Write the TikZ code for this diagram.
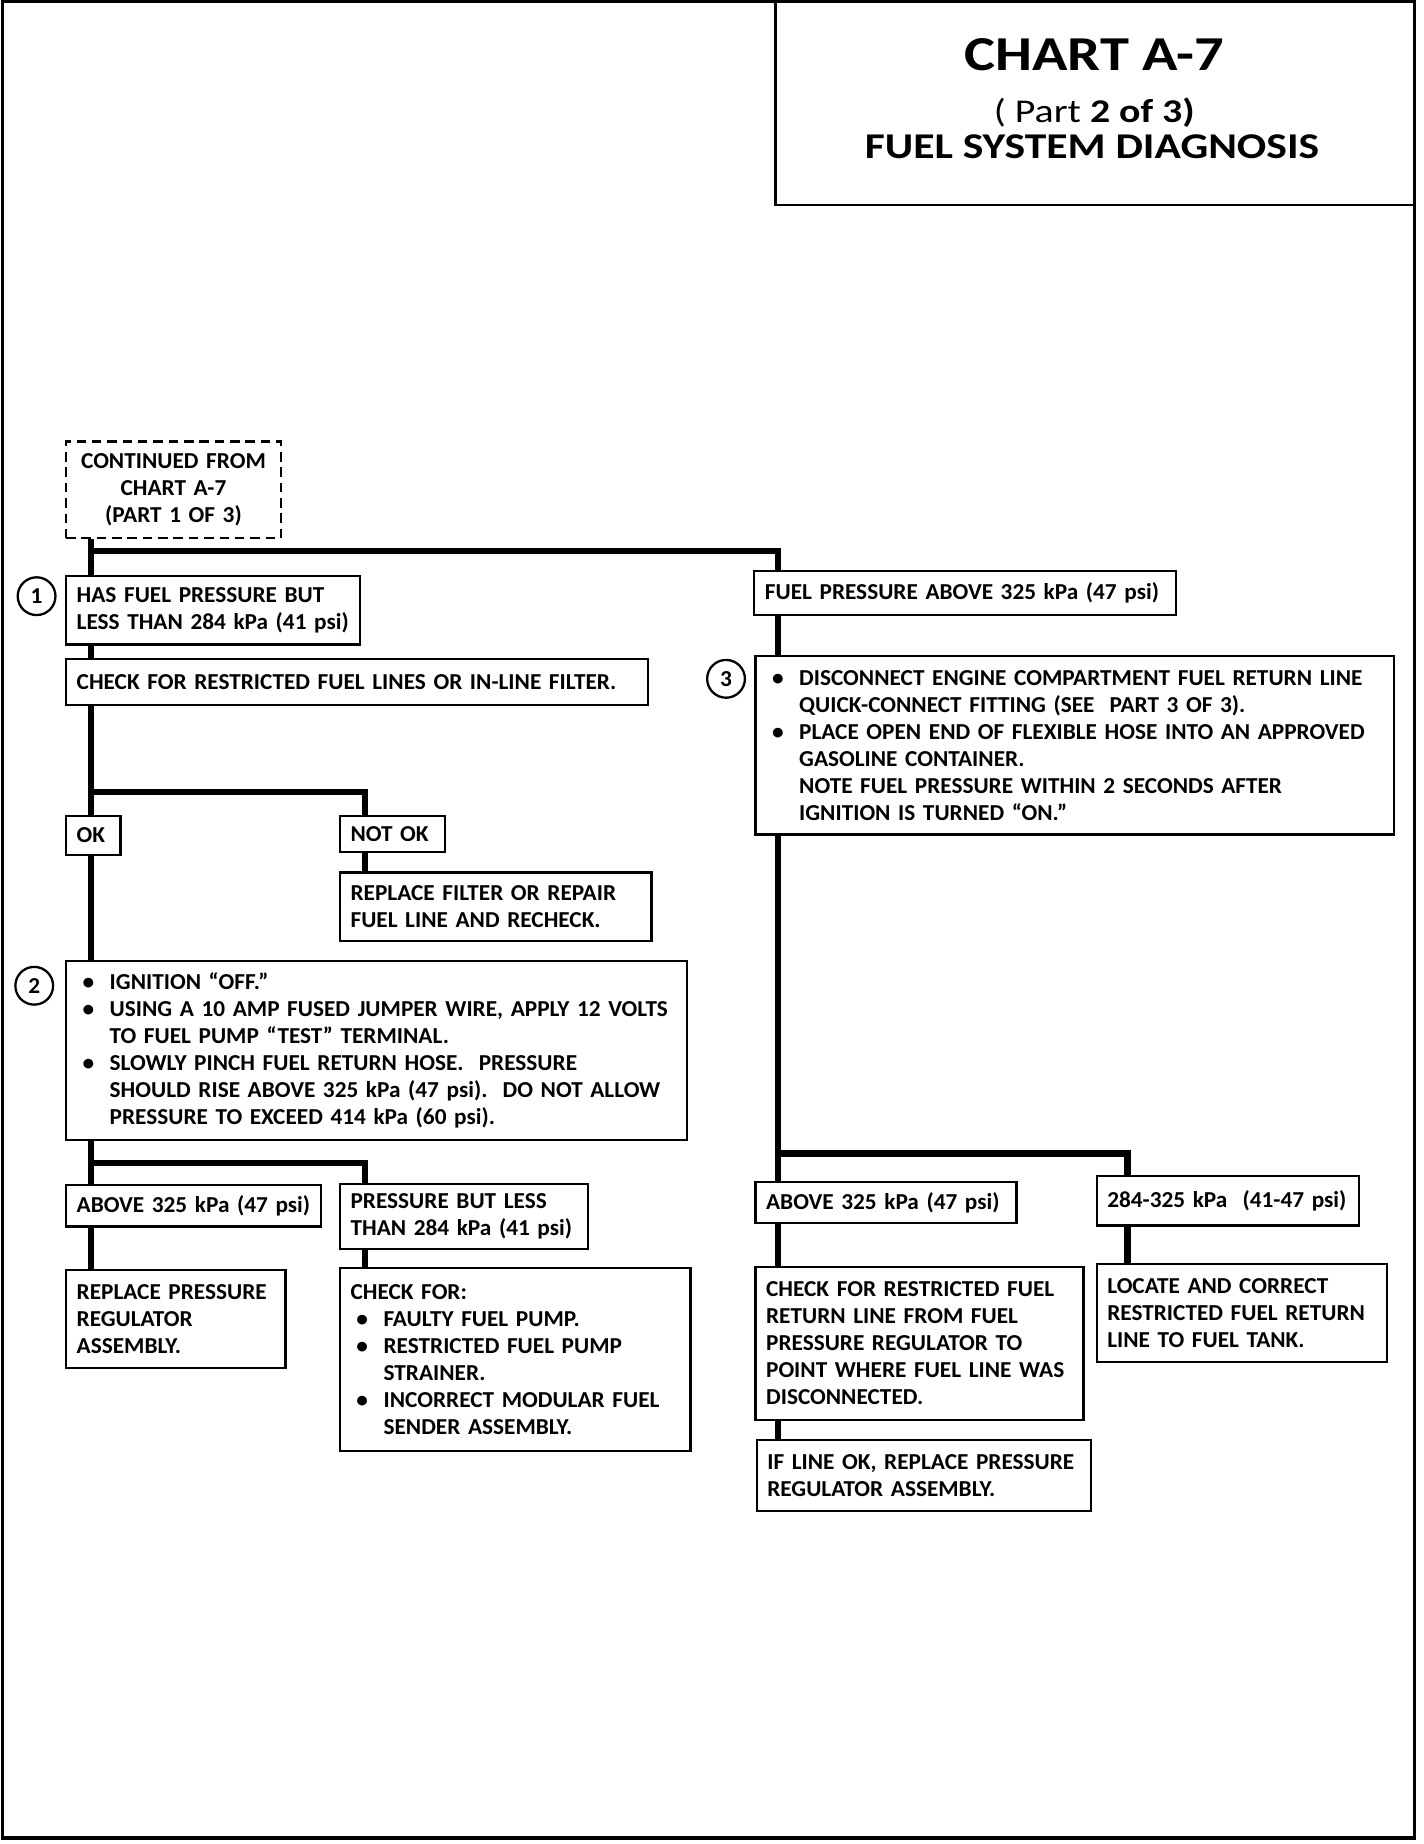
\documentclass[tikz,border=0pt]{standalone}
\usepackage{fontspec}
\setmainfont{Carlito}[FakeStretch=1.02]
\newfontfamily\titlefont{Carlito}[FakeStretch=1.2]
\usetikzlibrary{positioning}

\newcommand{\bul}{\hspace*{0.1cm}\makebox[0.46cm][l]{\textbullet}}
\newcommand{\ind}{\hspace*{0.56cm}}

\tikzset{
  stepbox/.style={draw, line width=1.1pt, fill=white, anchor=north west, align=left,
    inner xsep=0.18cm, inner ysep=0pt, font=\bfseries\fontsize{11}{13}\selectfont},
  contbox/.style={stepbox, dash pattern=on 0.16cm off 0.1cm, align=center},
  titletext/.style={anchor=base, inner sep=0pt, font=\titlefont},
  link/.style={line width=3pt},
  numcircle/.style={circle, draw, line width=1.1pt, minimum size=0.64cm, inner sep=0pt,
    font=\bfseries\fontsize{11}{13}\selectfont},
}

\begin{document}
\begin{tikzpicture}[x=0.02cm,y=-0.02cm]
  \useasboundingbox (0,0) rectangle (1206,1562);

  % frame and title
  \draw[line width=1.6pt] (2,1) rectangle (1198,1557);
  \node[draw, line width=1.1pt, anchor=north west, minimum width=10.84cm, minimum height=3.44cm,
    inner sep=0pt] (title) at (656,1) {};
  \node[titletext, font=\titlefont\bfseries\fontsize{23.5}{26}\selectfont] (chart) at (927,60) {CHART A-7};
  \node[titletext, font=\titlefont\fontsize{16}{18}\selectfont] (part) at (927,104) {( Part \textbf{2 of 3)}};
  \node[titletext, font=\titlefont\bfseries\fontsize{17.5}{19}\selectfont] (diag) at (925,134) {FUEL SYSTEM DIAGNOSIS};

  % trunk positions
  \coordinate (trunkL) at (77,0);
  \coordinate (trunkM) at (309,0);
  \coordinate (trunkR) at (659,0);
  \coordinate (trunkRR) at (955,0);
  \coordinate (j1) at (77,467);
  \coordinate (j2) at (77,671);
  \coordinate (j3) at (77,985);
  \coordinate (j4) at (659,977);

  % left column
  \node[contbox, text width=3.28cm, minimum height=1.64cm] (cont) at (55,373)
    {CONTINUED FROM\\CHART A-7\\(PART 1 OF 3)};
  \node[stepbox, text width=4.62cm, minimum height=1.16cm] (has) at (55,487)
    {HAS FUEL PRESSURE BUT\\LESS THAN 284~kPa~(41~psi)};
  \node[stepbox, text width=9.50cm, minimum height=0.78cm] (chk) at (55,557)
    {CHECK FOR RESTRICTED FUEL LINES OR IN-LINE FILTER.};
  \node[stepbox, text width=0.56cm, minimum height=0.66cm] (ok) at (55,690) {OK};
  \node[stepbox, text width=1.42cm, minimum height=0.62cm] (notok) at (287,690) {NOT~OK};
  \node[stepbox, text width=4.92cm, minimum height=1.16cm] (repf) at (287,738)
    {REPLACE FILTER OR REPAIR\\FUEL LINE AND RECHECK.};
  \node[stepbox, text width=10.16cm, minimum height=3.04cm] (ign) at (55,813)
    {\bul IGNITION ``OFF.''\\
     \bul USING A 10 AMP FUSED JUMPER WIRE, APPLY 12 VOLTS\\
     \ind TO FUEL PUMP ``TEST'' TERMINAL.\\
     \bul SLOWLY PINCH FUEL RETURN HOSE.\ \ PRESSURE\\
     \ind SHOULD RISE ABOVE 325 kPa (47 psi).\ \ DO NOT ALLOW\\
     \ind PRESSURE TO EXCEED 414 kPa (60 psi).};
  \node[stepbox, text width=3.96cm, minimum height=0.70cm] (aboveL) at (55,1003)
    {ABOVE~325~kPa~(47~psi)};
  \node[stepbox, text width=3.84cm, minimum height=1.10cm] (pbl) at (287,1002)
    {PRESSURE BUT LESS\\THAN~284~kPa~(41~psi)};
  \node[stepbox, text width=3.36cm, minimum height=1.66cm] (regL) at (55,1075)
    {REPLACE PRESSURE\\REGULATOR\\ASSEMBLY.};
  \node[stepbox, text width=5.58cm, minimum height=3.10cm] (chkfor) at (287,1073)
    {CHECK FOR:\\
     \bul FAULTY FUEL PUMP.\\
     \bul RESTRICTED FUEL PUMP\\
     \ind STRAINER.\\
     \bul INCORRECT MODULAR FUEL\\
     \ind SENDER ASSEMBLY.};

  % right column
  \node[stepbox, text width=6.78cm, minimum height=0.74cm] (fuelhi) at (638,483)
    {FUEL PRESSURE ABOVE 325 kPa (47 psi)};
  \node[stepbox, text width=10.46cm, minimum height=3.02cm] (disc) at (639,555)
    {\bul DISCONNECT ENGINE COMPARTMENT FUEL RETURN LINE\\
     \ind QUICK-CONNECT FITTING (SEE\ \ PART 3 OF 3).\\
     \bul PLACE OPEN END OF FLEXIBLE HOSE INTO AN APPROVED\\
     \ind GASOLINE CONTAINER.\\
     \ind NOTE FUEL PRESSURE WITHIN 2 SECONDS AFTER\\
     \ind IGNITION IS TURNED ``ON.''};
  \node[stepbox, text width=4.06cm, minimum height=0.70cm] (aboveR) at (639,1000)
    {ABOVE~325~kPa~(47~psi)};
  \node[stepbox, text width=4.08cm, minimum height=0.84cm] (midR) at (928,995)
    {284-325~kPa~~(41-47~psi)};
  \node[stepbox, text width=5.20cm, minimum height=2.60cm] (chkret) at (639,1072)
    {CHECK FOR RESTRICTED FUEL\\RETURN LINE FROM FUEL\\PRESSURE REGULATOR TO\\
     POINT WHERE FUEL LINE WAS\\DISCONNECTED.};
  \node[stepbox, text width=4.56cm, minimum height=1.66cm] (locate) at (928,1070)
    {LOCATE AND CORRECT\\RESTRICTED FUEL RETURN\\LINE TO FUEL TANK.};
  \node[stepbox, text width=5.30cm, minimum height=1.20cm] (ifok) at (640,1219)
    {IF LINE OK, REPLACE PRESSURE\\REGULATOR ASSEMBLY.};

  % step numbers
  \node[numcircle] (n1) at (31,505) {1};
  \node[numcircle] (n2) at (29,835) {2};
  \node[numcircle] (n3) at (615,575) {3};

  % connectors
  \draw[link] (cont.south -| trunkL) -- (has.north -| trunkL);
  \draw[link] (j1) -| (fuelhi.north -| trunkR);
  \draw[link] (has.south -| trunkL) -- (chk.north -| trunkL);
  \draw[link] (chk.south -| trunkL) -- (ok.north -| trunkL);
  \draw[link] (j2) -| (notok.north -| trunkM);
  \draw[link] (notok.south -| trunkM) -- (repf.north -| trunkM);
  \draw[link] (ok.south -| trunkL) -- (ign.north -| trunkL);
  \draw[link] (ign.south -| trunkL) -- (aboveL.north -| trunkL);
  \draw[link] (j3) -| (pbl.north -| trunkM);
  \draw[link] (aboveL.south -| trunkL) -- (regL.north -| trunkL);
  \draw[link] (pbl.south -| trunkM) -- (chkfor.north -| trunkM);
  \draw[link] (fuelhi.south -| trunkR) -- (disc.north -| trunkR);
  \draw[link] (disc.south -| trunkR) -- (aboveR.north -| trunkR);
  \draw[link] (j4) -| (midR.north -| trunkRR);
  \draw[link] (aboveR.south -| trunkR) -- (chkret.north -| trunkR);
  \draw[link] (midR.south -| trunkRR) -- (locate.north -| trunkRR);
  \draw[link] (chkret.south -| trunkR) -- (ifok.north -| trunkR);
\end{tikzpicture}
\end{document}
